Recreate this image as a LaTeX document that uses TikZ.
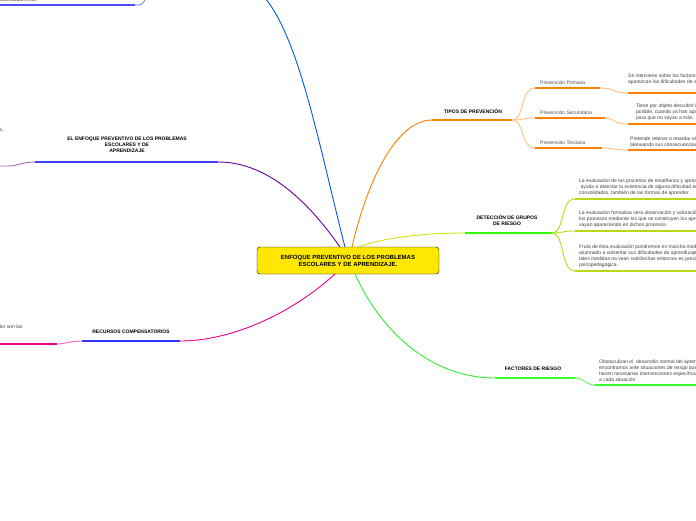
\documentclass[tikz,border=0pt]{standalone}
\usepackage{fontspec}
\setmainfont{Liberation Sans}
\begin{document}
\begin{tikzpicture}[x=1pt,y=-1pt,
  thick/.style={line width=1.4pt},
  semithick/.style={line width=0.9pt},
  txt/.style={font=\fontsize{5}{6}\selectfont,text=black!75,align=left,anchor=south west,inner sep=0pt},
  head/.style={font=\bfseries\fontsize{5}{6}\selectfont,align=center,inner sep=0pt},
  root/.style={draw=black,fill=yellow!90!orange,rounded corners=3pt,minimum width=182pt,minimum height=27pt,
    font=\bfseries\fontsize{6}{7}\selectfont,align=center}]
\useasboundingbox (0,0) rectangle (696,520);
\clip (0,0) rectangle (696,520);
\node[root] (r) at (348,260.5) {ENFOQUE PREVENTIVO DE LOS PROBLEMAS\\ESCOLARES Y DE APRENDIZAJE.};
% blue branch (top)
\coordinate (b1) at (265,-2);
\draw[blue!60!cyan!90!black,semithick] (345,247) .. controls (320,150) and (300,40) .. (b1);
\draw[blue!70,thick] (0,5) -- (135,5);
\draw[blue!50,semithick] (135,5) .. controls (142,5) .. (146,-2);
\node[txt,anchor=west] at (0,0) {adecuadamente.};
% purple branch
\coordinate (p1) at (218,162);
\draw[violet!80!blue,semithick] (340,247) .. controls (300,190) and (260,162) .. (p1);
\draw[blue!75,thick] (p1) -- (35,162);
\draw[violet!60,semithick] (35,162) .. controls (22,162) and (18,166) .. (8,166) -- (0,166);
\node[head] (pl) at (127,145) {EL ENFOQUE PREVENTIVO DE LOS PROBLEMAS\\ESCOLARES Y DE\\APRENDIZAJE};
\node[txt,anchor=west] at (-1,130) {a,};
% magenta branch
\coordinate (m1) at (180,341);
\draw[magenta,semithick] (335,274) .. controls (290,315) and (230,341) .. (m1);
\draw[blue!80,thick] (m1) -- (82,341);
\draw[magenta!60,semithick] (82,341) .. controls (68,341) and (66,344) .. (57,344);
\draw[magenta,thick] (57,344) -- (0,344);
\node[head] (ml) at (131,332) {RECURSOS COMPENSATORIOS};
\node[txt,anchor=west] at (-2,327) {dor son las};
% orange branch
\coordinate (o1) at (432,120);
\draw[orange,semithick] (352,247) .. controls (370,170) and (400,120) .. (o1);
\draw[orange,thick] (o1) -- (512,120);
\node[head] (ol) at (473,111) {TIPOS DE PREVENCIÓN};
\foreach \ya/\yb/\xe/\la in {
  88/93/600/Prevención Primaria,
  118/124/605/Prevención Secundaria,
  148/150/602/Prevención Terciaria}{
  \draw[orange!50,semithick] (512,120) .. controls (525,120) and (520,\ya) .. (535,\ya);
  \draw[orange,thick] (535,\ya) -- (\xe,\ya);
  \draw[orange!50,semithick] (\xe,\ya) .. controls (615,\ya) and (612,\yb) .. (628,\yb);
  \draw[orange,thick] (628,\yb) -- (696,\yb);
  \node[txt,text=black!70] at (540,\ya-3) {\la};
}
\node[txt] at (628,85) {Se interviene sobre los factores de riesgo para que no\\aparezcan las dificultades de aprendizaje.};
\node[txt] at (636,121) {Tiene por objeto descubrir las dificultades lo antes\\posible, cuando ya han aparecido, actuando sobre ellas\\para que no vayan a más.};
\node[txt] at (630,147) {Pretende retener o retardar el avance de las dificultades\\atenuando sus consecuencias.};
% yellow-green branch
\coordinate (y1) at (465,233);
\draw[yellow!80!green,semithick] (358,247) .. controls (390,236) and (430,233) .. (y1);
\draw[green!80!yellow,thick] (y1) -- (552,233);
\node[head] (yl) at (507,220) {DETECCIÓN DE GRUPOS\\DE RIESGO};
\foreach \ya in {199,231,271}{
  \draw[yellow!70!green,semithick] (552,233) .. controls (565,233) and (560,\ya) .. (575,\ya);
  \draw[yellow!70!green,thick] (575,\ya) -- (696,\ya);
}
\node[txt] at (579,196) {La evaluación de los procesos de enseñanza y aprendizaje nos\\\ ayuda a detectar la existencia de alguna dificultad en los aprendizajes\\consolidados, también de las formas de aprender.};
\node[txt] at (579,228) {La evaluación formativa será observación y valoración de\\los procesos mediante los que se construyen los aprendizajes,\\vayan apareciendo en dichos procesos.};
\node[txt] at (579,268) {Fruto de ésta evaluación pondremos en marcha medidas para que el\\alumnado a solventar sus dificultades de aprendizaje. Cuando\\tales medidas no vean satisfechas entonces es preciso una\\psicopedagógica.};
% green branch
\coordinate (g1) at (495,378);
\draw[green!90!black!80,semithick] (355,274) .. controls (380,330) and (430,378) .. (g1);
\draw[green!80,thick] (g1) -- (575,378);
\draw[green!70,semithick] (575,378) .. controls (585,378) and (585,385) .. (595,385);
\draw[green!80,thick] (595,385) -- (696,385);
\node[head] (gl) at (533,369) {FACTORES DE RIESGO};
\node[txt] at (599,382) {Obstaculizan el \ desarrollo normal del aprendizaje, nos\\encontramos ante situaciones de riesgo que\\hacen necesarias intervenciones específicas adaptadas\\a cada situación};
\end{tikzpicture}
\end{document}
